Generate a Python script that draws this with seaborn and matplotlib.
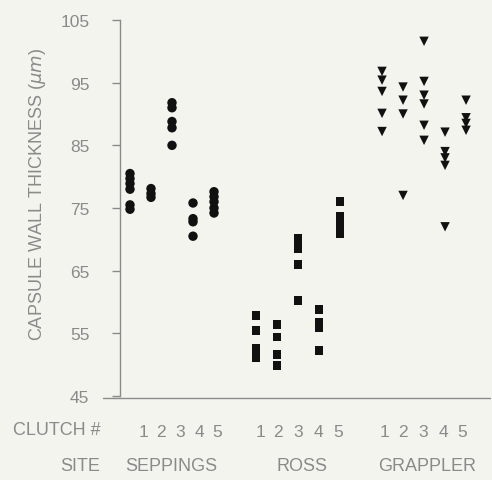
import matplotlib
matplotlib.use("Agg")
import matplotlib.pyplot as plt
from matplotlib.lines import Line2D
import seaborn as sns
import pandas as pd

# ---- data ----
sites = ["SEPPINGS", "ROSS", "GRAPPLER"]
clutches = [1, 2, 3, 4, 5]

seppings_1 = [80.5, 79.7, 78.9, 78.0, 75.5, 74.8]
seppings_2 = [78.1, 77.3, 76.7]
seppings_3 = [91.8, 91.0, 88.8, 87.8, 85.0]
seppings_4 = [75.8, 73.3, 72.8, 70.5]
seppings_5 = [77.6, 76.8, 76.0, 75.0, 74.2]

ross_1 = [57.8, 55.4, 52.6, 51.8, 51.2]
ross_2 = [56.4, 54.4, 51.6, 49.9]
ross_3 = [70.1, 69.3, 68.5, 66.0, 60.3]
ross_4 = [58.8, 56.7, 55.9, 52.3]
ross_5 = [76.0, 73.6, 72.6, 71.7, 70.9]

grappler_1 = [96.8, 95.4, 93.6, 90.1, 87.2]
grappler_2 = [94.3, 92.2, 90.0, 77.0]
grappler_3 = [101.6, 95.2, 93.0, 91.6, 88.2, 85.8]
grappler_4 = [87.1, 84.0, 83.0, 81.8, 72.0]
grappler_5 = [92.2, 89.4, 88.5, 87.4]

y_ticks = [45, 55, 65, 75, 85, 95, 105]
clutch_labels = ["1", "2", "3", "4", "5"]

# ---- build table ----
series = {
    "SEPPINGS": [seppings_1, seppings_2, seppings_3, seppings_4, seppings_5],
    "ROSS": [ross_1, ross_2, ross_3, ross_4, ross_5],
    "GRAPPLER": [grappler_1, grappler_2, grappler_3, grappler_4, grappler_5],
}
rows = []
for si, site in enumerate(sites):
    for ci, vals in enumerate(series[site]):
        for v in vals:
            rows.append({"site": site, "clutch": clutches[ci],
                         "pos": si * 6 + ci, "thickness": v})
df = pd.DataFrame(rows)

# ---- style ----
sns.set_style("white")
plt.rcParams["font.family"] = ["Liberation Sans", "DejaVu Sans"]
bg = "#f4f4ef"
txt = "#8a8a8a"
ink = "#111111"

W, H = 492, 481
fig = plt.figure(figsize=(W / 100, H / 100), dpi=100, facecolor=bg)
ax = fig.add_axes([120 / W, (H - 397) / H, (490 - 120) / W, (397 - 21) / H])
ax.set_facecolor(bg)

markers = {"SEPPINGS": "o", "ROSS": "s", "GRAPPLER": "v"}
sizes = {"SEPPINGS": 46, "ROSS": 40, "GRAPPLER": 46}
for site in sites:
    sub = df[df.site == site]
    sns.scatterplot(data=sub, x="pos", y="thickness", marker=markers[site],
                    s=sizes[site], color=ink, edgecolor="none",
                    linewidth=0, legend=False, ax=ax, zorder=3)

ax.set_xlim(-0.476, 17.14)
ax.set_ylim(45, 105)
ax.set_yticks(y_ticks)
ax.set_yticklabels([str(t) for t in y_ticks], fontsize=12.5, color=txt)
ax.tick_params(axis="y", left=True, direction="out", length=6, width=1,
               color=txt, pad=16)

# clutch numbers under each column group (typeset positions of reference)
label_pos = [0.62, 1.48, 2.38, 3.29, 4.14,
             6.19, 7.05, 8.0, 8.95, 9.9,
             12.14, 13.0, 13.95, 14.9, 15.8]
ax.set_xticks(label_pos)
ax.set_xticklabels(clutch_labels * 3, fontsize=12.5, color=txt)
ax.tick_params(axis="x", bottom=False, length=0, pad=20)

ax.set_xlabel("")
ax.set_ylabel(r"CAPSULE WALL THICKNESS ($\mu m$)", fontsize=13, color=txt)
ax.yaxis.set_label_coords((38 - 120) / (490 - 120), (397 - 195) / (397 - 21))
ax.yaxis.label.set_verticalalignment("center")

for sp in ["top", "right", "bottom"]:
    ax.spines[sp].set_visible(False)
ax.spines["left"].set_color(txt)
ax.spines["left"].set_linewidth(1)

# bottom rule (extends left past the y axis, as in the reference)
fig.add_artist(Line2D([103 / W, 490 / W], [(H - 399) / H, (H - 399) / H],
                      transform=fig.transFigure, color=txt, lw=1))

def ftext(px, py, s, **kw):
    fig.text(px / W, (H - py) / H, s, ha="center", va="center",
             fontsize=13, color=txt, **kw)

ftext(57, 431, "CLUTCH #")
ftext(80, 467, "SITE")
site_px = [171, 302, 427]
for name, px in zip(sites, site_px):
    ftext(px, 467, name)

fig.savefig("out.png", dpi=100, facecolor=bg)
